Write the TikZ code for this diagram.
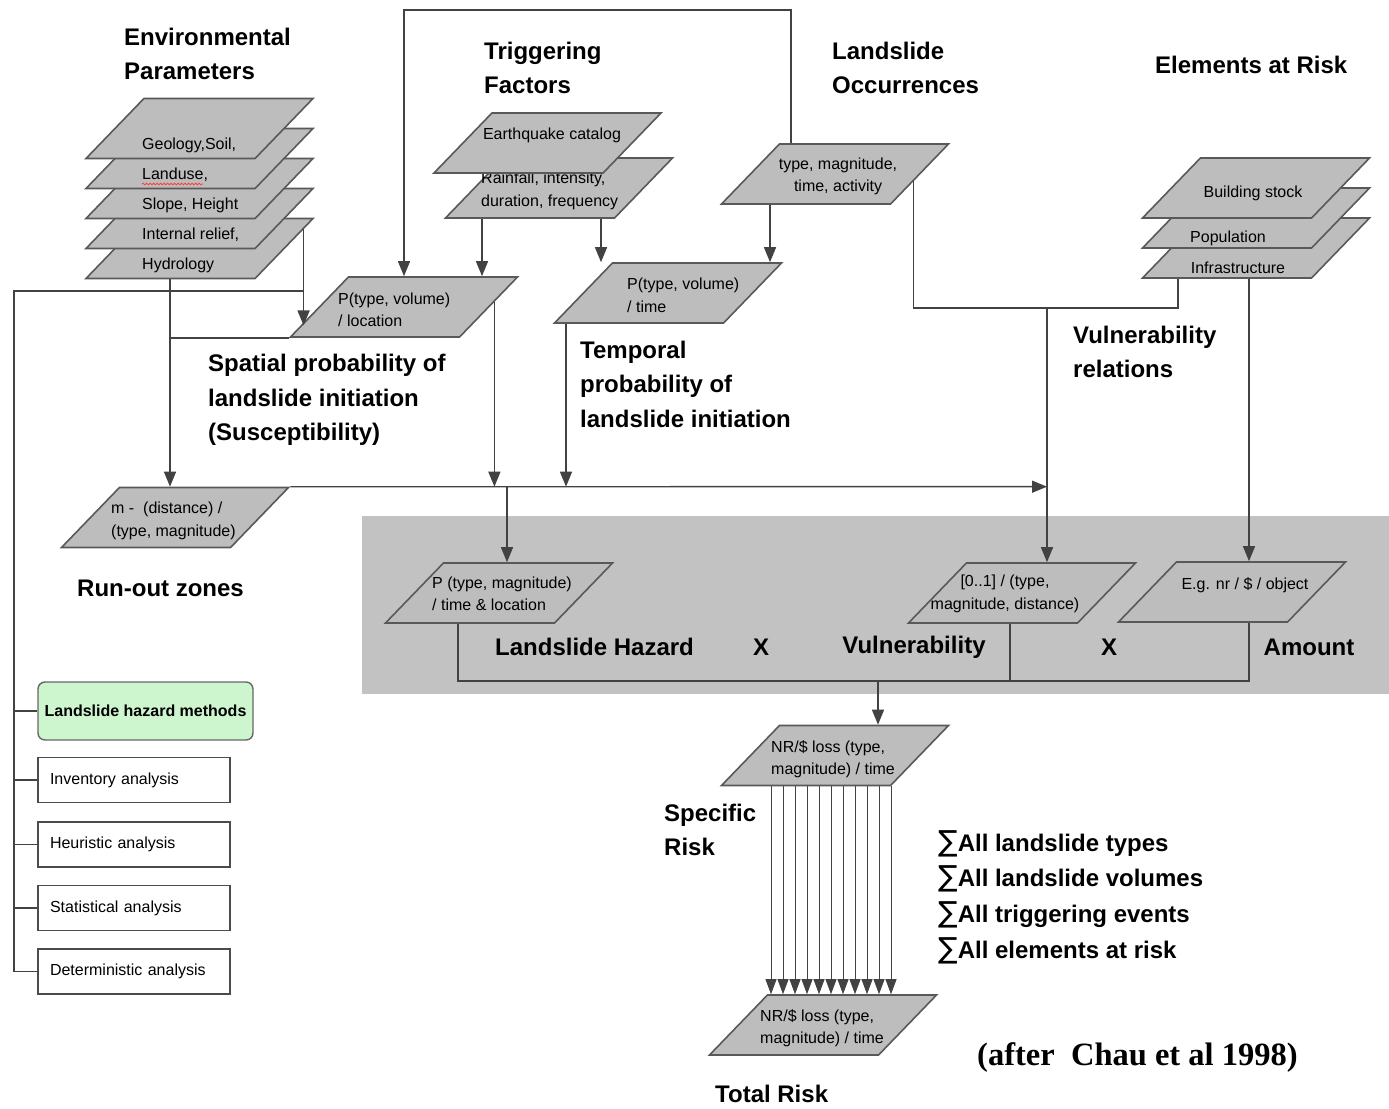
\documentclass[tikz,border=0pt]{standalone}
\usepackage{fontspec}
\setmainfont{Liberation Sans}
\newfontfamily\citefont{Liberation Serif}
\newfontfamily\sumfont{DejaVu Sans}
\usepackage{tikz}
\usetikzlibrary{arrows.meta,positioning,shapes.geometric,calc,decorations.pathmorphing}
\definecolor{plategray}{RGB}{189,189,189}
\definecolor{bandgray}{RGB}{194,194,194}
\definecolor{methodgreen}{RGB}{206,246,206}
\definecolor{wiregray}{RGB}{66,66,66}

\begin{document}
\begin{tikzpicture}[x=1pt,y=-1pt,>={Triangle[width=12pt,length=15pt]},
head/.style={font=\fontsize{24}{34.5}\selectfont\bfseries,align=left,inner sep=0pt},
small/.style={font=\fontsize{16}{22.5}\selectfont,inner sep=0pt},
plate/.style={trapezium,trapezium left angle=46,trapezium right angle=134,trapezium stretches body=true,
  draw=black!65,line width=1.6pt,fill=plategray,minimum width=227pt,text height=60pt,text depth=0pt,inner sep=0pt},
wire/.style={draw=wiregray,line width=1.4pt},
method/.style={small,draw=black!70,line width=1.5pt,minimum height=45pt,text width=168pt,inner xsep=12pt,inner ysep=0pt,align=left}]
\useasboundingbox (0,0) rectangle (1389,1108);

% shaded band behind hazard x vulnerability x amount
\node[fill=bandgray,minimum width=1027pt,minimum height=178pt,anchor=north west,inner sep=0pt] (band) at (362,516) {};

% titles
\node[head,anchor=west] (tEnv) at (124,54) {Environmental\\Parameters};
\node[head,anchor=west] (tTrig) at (484,68) {Triggering\\Factors};
\node[head,anchor=west] (tOcc) at (832,68) {Landslide\\Occurrences};
\node[head,anchor=west] (tElem) at (1155,65) {Elements at Risk};

% environmental layers, bottom one first
\foreach \k/\lbl in {4/Hydrology,3/{Internal relief,},2/{Slope, Height},1/{Landuse,},0/{Geology,Soil,}}{
  \node[plate] (env\k) at (199.5,128.5+30*\k) {};
  \node[small,anchor=west] (envlbl\k) at (142,145+30*\k) {\lbl};
}
\draw[red!75,line width=0.8pt,decorate,decoration={snake,amplitude=0.9pt,segment length=3.5pt}]
  ([yshift=-2pt]envlbl1.south west) -- ([yshift=-2pt,xshift=-5pt]envlbl1.south east);

% triggering factors
\node[plate] (trigB) at (559,188) {};
\node[small,anchor=west,align=left] (trigBlbl) at (481,191) {Rainfall, intensity,\\duration, frequency};
\node[plate] (trigA) at (547.5,143) {};
\node[small] (trigAlbl) at (552,135) {Earthquake catalog};

% landslide occurrences
\node[plate] (occ) at (835,174) {};
\node[small,align=center] (occlbl) at (838,176.5) {type, magnitude,\\time, activity};

% elements at risk
\foreach \k in {2,1,0} \node[plate] (elem\k) at (1256,188+30*\k) {};
\node[small] (elemlbl0) at (1253,193) {Building stock};
\node[small] (elemlbl1) at (1228,238) {Population};
\node[small] (elemlbl2) at (1238,268) {Infrastructure};

% probabilities and risk
\node[plate] (ploc) at (404,307) {};
\node[small,align=left,anchor=west] (ploclbl) at (338,310) {P(type, volume)\\/ location};
\node[plate] (ptime) at (668,293) {};
\node[small,align=left,anchor=west] (ptimelbl) at (627,295.5) {P(type, volume)\\/ time};
\node[plate] (mdist) at (175,517.5) {};
\node[small,align=left,anchor=west] (mdistlbl) at (111,521) {m -\ \ (distance) /\\(type, magnitude)};
\node[plate] (pmag) at (499,593) {};
\node[small,align=left,anchor=west] (pmaglbl) at (432,594) {P (type, magnitude)\\/ time \& location};
\node[plate] (vul01) at (1022,593) {};
\node[small,align=center] (vul01lbl) at (1005,594) {[0..1] / (type,\\magnitude, distance)};
\node[plate] (amount) at (1232,592) {};
\node[small] (amountlbl) at (1245,585) {E.g. nr / \$ / object};
\node[plate] (nrtop) at (835,755.5) {};
\node[small,align=left,anchor=west] (nrtoplbl) at (771,759) {NR/\$ loss (type,\\magnitude) / time};
\node[plate] (nrbot) at (823,1025) {};
\node[small,align=left,anchor=west] (nrbotlbl) at (760,1028) {NR/\$ loss (type,\\magnitude) / time};

% labels
\node[head,anchor=west] (tSpat) at (208,400) {Spatial probability of\\landslide initiation\\(Susceptibility)};
\node[head,anchor=west] (tTemp) at (580,384) {Temporal\\probability of\\landslide initiation};
\node[head,anchor=west] (tVulRel) at (1073,352) {Vulnerability\\relations};
\node[head,anchor=west] (tRun) at (77,588) {Run-out zones};
\node[head,anchor=west] (tHaz) at (495,647) {Landslide Hazard};
\node[head] (tX1) at (761,647) {X};
\node[head] (tVul) at (914,647) {Vulnerability};
\node[head] (tX2) at (1109,647) {X};
\node[head] (tAmt) at (1309,647) {Amount};
\node[head,anchor=west] (tSpec) at (664,830) {Specific\\Risk};
\node[head,anchor=west] (tTot) at (715,1094) {Total Risk};
\node[head,anchor=west,font=\fontsize{24}{35.7}\selectfont\bfseries] (tSum) at (938,897)
  {{\mdseries\sumfont\fontsize{29}{35.7}\selectfont ∑}All landslide types\\{\mdseries\sumfont\fontsize{29}{35.7}\selectfont ∑}All landslide volumes\\{\mdseries\sumfont\fontsize{29}{35.7}\selectfont ∑}All triggering events\\{\mdseries\sumfont\fontsize{29}{35.7}\selectfont ∑}All elements at risk};
\node[anchor=west,inner sep=0pt,font=\fontsize{32.5}{38}\citefont\bfseries] (tSrc) at (977,1058) {(after\ \ Chau et al 1998)};

% hazard methods
\node[draw=black!60,line width=1.4pt,rounded corners=7pt,fill=methodgreen,minimum width=215pt,minimum height=58pt,
  inner sep=0pt,font=\fontsize{16}{20}\selectfont\bfseries] (mHaz) at (145.5,711) {Landslide hazard methods};
\node[method,below right=16pt and 0pt of mHaz.south west] (mInv) {Inventory analysis};
\node[method,below=18pt of mInv] (mHeu) {Heuristic analysis};
\node[method,below=17pt of mHeu] (mSta) {Statistical analysis};
\node[method,below=17pt of mSta] (mDet) {Deterministic analysis};

% columns and rows of the connectors
\coordinate (colHyd) at (170,0);
\coordinate (colRainA) at (482,0);
\coordinate (colRainB) at (601,0);
\coordinate (colOccA) at (791,0);
\coordinate (colOccB) at (770,0);
\coordinate (colTemp) at (566,0);
\coordinate (colHaz) at (507,0);
\coordinate (colVul) at (1047,0);
\coordinate (colElemA) at (1178,0);
\coordinate (colElemB) at (1249,0);
\coordinate (colCombA) at (458,0);
\coordinate (colCombB) at (1010,0);
\coordinate (colRisk) at (878,0);
\coordinate (colMeth) at (14,0);
\coordinate (bundle) at (771,0);
\coordinate (rowTop) at (0,10);
\coordinate (rowMeth) at (0,291);
\coordinate (rowVul) at (0,308);
\coordinate (rowComb) at (0,681);
\coordinate (envout) at ($(env4.top right corner)!.19!(env4.bottom right corner)$);
\coordinate (plocin) at ($(ploc.top left corner)!.8!(ploc.bottom left corner)$);
\coordinate (plocout) at ($(ploc.top right corner)!.42!(ploc.bottom right corner)$);
\coordinate (occout) at ($(occ.top right corner)!.62!(occ.bottom right corner)$);

\draw[wire,->] (occ.north -| colOccA) |- (rowTop -| ploc.north) -- (ploc.north);
\draw[wire,->] (trigB.south -| colRainA) -- (ploc.north -| colRainA);
\draw[wire,->] (trigB.south -| colRainB) -- (ptime.north -| colRainB);
\draw[wire,->] (occ.south -| colOccB) -- (ptime.north -| colOccB);
\draw[wire,->] (envout) -- (envout |- plocin);
\draw[wire] (envout |- rowMeth) -- (rowMeth -| colMeth) -- (colMeth |- mDet.west) -- (mDet.west);
\foreach \m in {mHaz,mInv,mHeu,mSta} \draw[wire] (\m.west) -- (\m.west -| colMeth);
\draw[wire,->] (env4.south -| colHyd) -- (mdist.north -| colHyd);
\draw[wire] (ploc.bottom left corner) -- (ploc.bottom left corner -| colHyd);
\draw[wire,->] (plocout) -- (plocout |- mdist.north);
\draw[wire,->] (ptime.south -| colTemp) -- (mdist.north -| colTemp);
\draw[wire,->] (mdist.top right corner) -- (mdist.north -| colVul);
\draw[wire,->] (mdist.north -| colHaz) -- (pmag.north -| colHaz);
\draw[wire] (occout) |- (rowVul -| colElemA) -- (elem2.south -| colElemA);
\draw[wire,->] (rowVul -| colVul) -- (vul01.north -| colVul);
\draw[wire,->] (elem2.south -| colElemB) -- (amount.north -| colElemB);
\draw[wire] (pmag.south -| colCombA) |- (rowComb -| colElemB) -- (amount.south -| colElemB);
\draw[wire] (vul01.south -| colCombB) -- (rowComb -| colCombB);
\draw[wire,->] (rowComb -| colRisk) -- (nrtop.north -| colRisk);
\foreach \k in {0,...,10}
  \draw[wire,line width=0.9pt,-{Triangle[width=11pt,length=15pt]}] ([xshift=\k*12pt]nrtop.south -| bundle) -- ([xshift=\k*12pt]nrbot.north -| bundle);
\end{tikzpicture}
\end{document}
